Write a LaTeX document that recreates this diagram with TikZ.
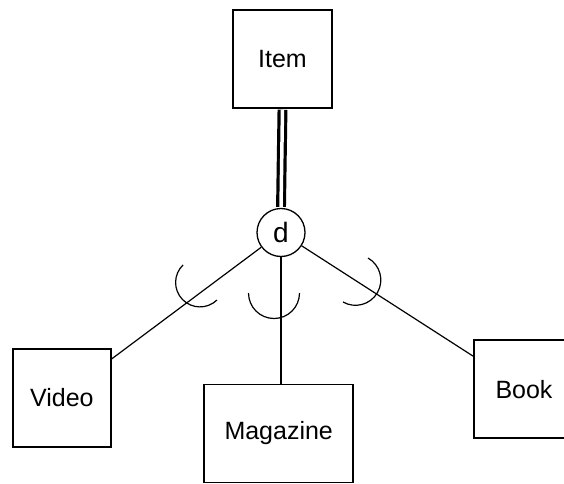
\documentclass[tikz,border=0pt]{standalone}
\usepackage{fontspec}
\setmainfont{Liberation Sans}

\begin{document}
\begin{tikzpicture}[x=1pt,y=1pt,line width=1.2pt,
  entity/.style={draw,line width=1.5pt,minimum height=98pt,inner sep=0pt,font=\fontsize{25}{30}\selectfont},
  disjoint/.style={draw,circle,minimum size=48pt,inner sep=0pt,line width=1.3pt,font=\fontsize{28}{32}\selectfont},
  total/.style={double,double distance=3.5pt,line width=3.2pt,shorten <=1pt,shorten >=1pt}]
  \useasboundingbox (0,0) rectangle (564,483);
  \clip (0,0) rectangle (564,483);
  % superclass and disjointness circle
  \node[entity,minimum width=99pt] (item) at (282.5,424) {Item};
  \node[disjoint] (d) at (281,250.5) {d};
  % subclasses
  \node[entity,minimum width=98pt] (video) at (61.9,85.2) {Video};
  \node[entity,minimum width=149pt] (magazine) at (278.7,49.6) {Magazine};
  \node[entity,minimum width=100pt] (book) at (524,93.8) {Book};
  % connectors
  \draw[total] (item.south) -- (d.north);
  \draw (d) -- (video.38);
  \draw (d.south) -- (d.south |- magazine.north);
  \draw (d) -- (book.147);
  % subset marks
  \draw (200,200.5) ++(134:24.4) arc[start angle=134,end angle=314,radius=24.4];
  \draw (274,190) ++(180:25.5) arc[start angle=180,end angle=360,radius=25.5];
  \draw (355.5,203) ++(60.4:25.3) arc[start angle=60.4,end angle=-119.6,radius=25.3];
\end{tikzpicture}
\end{document}
